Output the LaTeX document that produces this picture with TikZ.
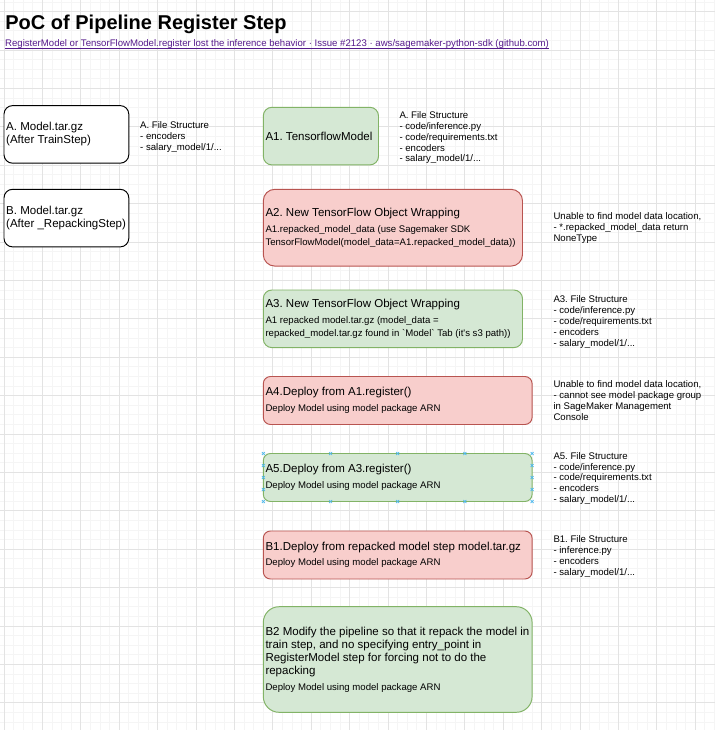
\documentclass[tikz,border=0pt]{standalone}
\usepackage{fontspec}
\setmainfont{Liberation Sans}
\usetikzlibrary{calc}

\definecolor{gfill}{HTML}{D5E8D4}
\definecolor{gline}{HTML}{82B366}
\definecolor{rfill}{HTML}{F8CECC}
\definecolor{rline}{HTML}{B85450}
\definecolor{gridmin}{HTML}{F5F5F5}
\definecolor{gridmaj}{HTML}{E3E3E3}
\definecolor{linkcol}{HTML}{551A8B}
\definecolor{selblue}{HTML}{4AB8EE}

\newcommand\ftitle{\fontsize{20pt}{24pt}\selectfont\bfseries}
\newcommand\flink{\fontsize{9.6pt}{11pt}\selectfont}
\newcommand\fbig{\fontsize{11.52pt}{13.1pt}\selectfont}
\newcommand\fbody{\fontsize{9.6pt}{11.6pt}\selectfont}
\newcommand\fnote{\fontsize{9.6pt}{10.8pt}\selectfont}

\tikzset{
  card/.style={draw, line width=0.96pt, outer sep=0pt, inner sep=0pt},
  whitecard/.style={card, fill=white, draw=black},
  greencard/.style={card, fill=gfill, draw=gline},
  redcard/.style={card, fill=rfill, draw=rline},
  cardtext/.style={anchor=west, align=left, inner sep=0pt, font=\fbig},
  note/.style={anchor=north west, align=left, inner sep=0pt, font=\fnote},
  minorgrid/.style={draw=gridmin, line width=0.9pt},
  majorgrid/.style={draw=gridmaj, line width=0.9pt},
  selmark/.style={draw=selblue, line width=0.7pt},
}

\begin{document}
\frenchspacing
\begin{tikzpicture}[x=1pt, y=-1pt]
\useasboundingbox (0,0) rectangle (715,730);
\fill[white] (0,0) rectangle (715,730);

% background grid
\foreach \i in {0,...,74} \draw[minorgrid] ({4+9.6*\i},0) -- ({4+9.6*\i},730);
\foreach \j in {0,...,75} \draw[minorgrid] (0,{2.1+9.6*\j}) -- (715,{2.1+9.6*\j});
\foreach \k in {0,...,18} \draw[majorgrid] ({4+38.4*\k},0) -- ({4+38.4*\k},730);
\foreach \k in {0,...,18} \draw[majorgrid] (0,{11.7+38.4*\k}) -- (715,{11.7+38.4*\k});

% heading
\node[anchor=base west, inner sep=0pt, font=\ftitle] (title) at (5.2,30) {PoC of Pipeline Register Step};
\node[anchor=base west, inner sep=0pt, font=\flink, text=linkcol] (link) at (5,46.5)
  {RegisterModel or TensorFlowModel.register lost the inference behavior · Issue \#2123 · aws/sagemaker-python-sdk (github.com)};
\draw[linkcol, line width=0.7pt] ([yshift=-2.3pt]link.base west) -- ([yshift=-2.3pt]link.base east);

% left column
\node[whitecard, minimum width=124.8pt, minimum height=57.6pt, rounded corners=8.6pt] (ma) at (66.4,134.4) {};
\node[cardtext] (mat) at ([xshift=2pt]ma.west) {A. Model.tar.gz\\(After TrainStep)};
\node[whitecard, minimum width=124.8pt, minimum height=57.6pt, rounded corners=8.6pt] (mb) at (66.4,218.1) {};
\node[cardtext] (mbt) at ([xshift=2pt]mb.west) {B. Model.tar.gz\\(After \_RepackingStep)};
\node[note] (nma) at (140,121.5) {A. File Structure\\- encoders\\- salary\_model/1/...};

% middle column
\node[greencard, minimum width=115.2pt, minimum height=57.6pt, rounded corners=8.6pt] (a1) at (320.9,136.1) {};
\node[cardtext] (a1t) at ([xshift=2pt]a1.west) {A1. TensorflowModel};
\node[note] (na1) at (399.3,111.5) {A. File Structure\\- code/inference.py\\- code/requirements.txt\\- encoders\\- salary\_model/1/...};

\node[redcard, minimum width=259.2pt, minimum height=76.8pt, rounded corners=11.5pt] (a2) at (392.9,227.7) {};
\node[cardtext] (a2t) at ([xshift=2pt]a2.west) {A2. New TensorFlow Object Wrapping\\[2.4pt]
  \fbody A1.repacked\_model\_data (use Sagemaker SDK\\
  \fbody TensorFlowModel(model\_data=A1.repacked\_model\_data))};

\node[greencard, minimum width=259.2pt, minimum height=57.6pt, rounded corners=8.6pt] (a3) at (392.9,318.8) {};
\node[cardtext] (a3t) at ([xshift=2pt]a3.west) {A3. New TensorFlow Object Wrapping\\[2.4pt]
  \fbody A1 repacked model.tar.gz (model\_data =\\
  \fbody repacked\_model.tar.gz found in \textasciigrave Model\textasciigrave\ Tab (it\textquotesingle s s3 path))};

\node[redcard, minimum width=268.8pt, minimum height=48pt, rounded corners=7.2pt] (a4) at (397.7,400.5) {};
\node[cardtext] (a4t) at ([xshift=2pt]a4.west) {A4.Deploy from A1.register()\\[2.4pt]
  \fbody Deploy Model using model package ARN};

\node[greencard, minimum width=268.8pt, minimum height=48pt, rounded corners=7.2pt] (a5) at (397.7,477.5) {};
\node[cardtext] (a5t) at ([xshift=2pt]a5.west) {A5.Deploy from A3.register()\\[2.4pt]
  \fbody Deploy Model using model package ARN};

\node[redcard, minimum width=268.8pt, minimum height=48pt, rounded corners=7.2pt] (b1) at (397.7,555) {};
\node[cardtext] (b1t) at ([xshift=2pt]b1.west) {B1.Deploy from repacked model step model.tar.gz\\[2.4pt]
  \fbody Deploy Model using model package ARN};

\node[greencard, minimum width=268.8pt, minimum height=105.6pt, rounded corners=15.8pt] (b2) at (397.7,659.5) {};
\node[cardtext] (b2t) at ([xshift=2pt]b2.west) {B2 Modify the pipeline so that it repack the model in\\
  train step, and no specifying entry\_point in\\
  RegisterModel step for forcing not to do the\\
  repacking\\[2.4pt]
  \fbody Deploy Model using model package ARN};

% selection handles around A5
\foreach \t in {0,0.25,0.5,0.75,1} {
  \path ($(a5.north west)!\t!(a5.north east)$) coordinate (hn)
        ($(a5.south west)!\t!(a5.south east)$) coordinate (hs);
  \draw[selmark] (hn) +(-1.5,-1.5) -- +(1.5,1.5) (hn) +(-1.5,1.5) -- +(1.5,-1.5);
  \draw[selmark] (hs) +(-1.5,-1.5) -- +(1.5,1.5) (hs) +(-1.5,1.5) -- +(1.5,-1.5);
}
\foreach \t in {0.25,0.5,0.75} {
  \path ($(a5.north west)!\t!(a5.south west)$) coordinate (hw)
        ($(a5.north east)!\t!(a5.south east)$) coordinate (he);
  \draw[selmark] (hw) +(-1.5,-1.5) -- +(1.5,1.5) (hw) +(-1.5,1.5) -- +(1.5,-1.5);
  \draw[selmark] (he) +(-1.5,-1.5) -- +(1.5,1.5) (he) +(-1.5,1.5) -- +(1.5,-1.5);
}

% right column notes
\node[note] (na2) at (553.3,212.5) {Unable to find model data location,\\- *.repacked\_model\_data return\\NoneType};
\node[note] (na3) at (553.3,295.8) {A3. File Structure\\- code/inference.py\\- code/requirements.txt\\- encoders\\- salary\_model/1/...};
\node[note] (na4) at (553.3,380.5) {Unable to find model data location,\\- cannot see model package group\\in SageMaker Management\\Console};
\node[note] (na5) at (553.3,452.2) {A5. File Structure\\- code/inference.py\\- code/requirements.txt\\- encoders\\- salary\_model/1/...};
\node[note] (nb1) at (553.3,535.5) {B1. File Structure\\- inference.py\\- encoders\\- salary\_model/1/...};
\end{tikzpicture}
\end{document}
